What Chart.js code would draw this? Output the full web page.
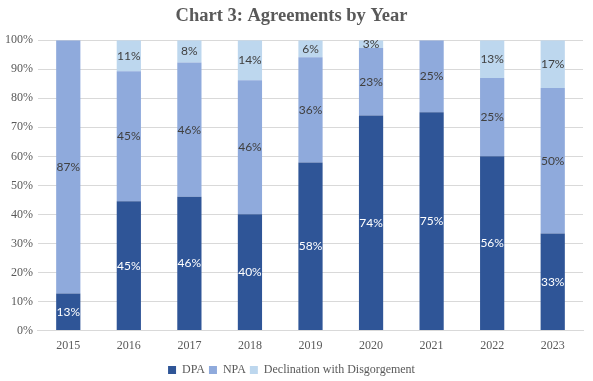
<!DOCTYPE html>
<html><head><meta charset="utf-8">
<script src="https://cdn.jsdelivr.net/npm/chart.js@4/dist/chart.umd.min.js"></script>
<style>html,body{margin:0;padding:0;background:#fff}#wrap{width:593px;height:381px}</style>
</head><body><div id="wrap"><canvas id="c" width="593" height="381"></canvas></div>
<script>
const years = ['2015','2016','2017','2018','2019','2020','2021','2022','2023'];
const dpa = [12.8, 44.5, 46.1, 40.1, 57.9, 74.1, 75.2, 60.0, 33.4];
const npa = [87.2, 44.8, 46.2, 46.1, 36.2, 23.2, 24.8, 27.0, 50.1];
const decl = [0, 10.7, 7.7, 13.8, 5.9, 2.7, 0, 13.0, 16.5];
const dpaLabels = ['13%','45%','46%','40%','58%','74%','75%','56%','33%'];
const npaLabels = ['87%','45%','46%','46%','36%','23%','25%','25%','50%'];
const declLabels = ['','11%','8%','14%','6%','3%','','13%','17%'];
const yTicks = [0,10,20,30,40,50,60,70,80,90,100];

const labelPlugin = {
  id:'segLabels',
  afterDatasetsDraw(chart){
    const ctx = chart.ctx;
    const sets = [dpaLabels, npaLabels, declLabels];
    chart.data.datasets.forEach((ds, di) => {
      const meta = chart.getDatasetMeta(di);
      meta.data.forEach((bar, i) => {
        const t = sets[di][i];
        if (!t) return;
        const p = bar.getProps(['x','y','base'], true);
        ctx.save();
        ctx.font = '12px Lato, "Open Sans", sans-serif';
        ctx.fillStyle = di === 0 ? '#ffffff' : '#404040';
        ctx.textAlign = 'center';
        ctx.textBaseline = 'middle';
        ctx.fillText(t, p.x, (p.y + p.base) / 2);
        ctx.restore();
      });
    });
  }
};

new Chart(document.getElementById('c'), {
  type:'bar',
  data:{
    labels: years,
    datasets:[
      {label:'DPA', data:dpa, backgroundColor:'#2F5597'},
      {label:'NPA', data:npa, backgroundColor:'#8FAADC'},
      {label:'Declination with Disgorgement', data:decl, backgroundColor:'#BDD7EE'}
    ]
  },
  options:{
    responsive:false,
    animation:false,
    layout:{padding:{left:0,right:10,top:0,bottom:-5}},
    datasets:{bar:{barPercentage:0.8,categoryPercentage:0.5}},
    scales:{
      x:{stacked:true, grid:{display:false}, border:{display:true,color:'#d9d9d9'},
         afterFit(axis){ axis.height += 7; },
         ticks:{color:'#595959', font:{family:'"Liberation Serif", serif', size:12}, padding:0}},
      y:{stacked:true, min:0, max:100,
         afterBuildTicks(axis){ axis.ticks = yTicks.map(v=>({value:v})); },
         grid:{color:'#d9d9d9', drawTicks:false}, border:{display:false},
         ticks:{color:'#595959', padding:5, font:{family:'"Liberation Serif", serif', size:12}, callback:v=>v+'%'}}
    },
    plugins:{
      title:{display:true, text:'Chart 3: Agreements by Year', color:'#595959',
             font:{family:'"Liberation Serif", serif', size:18.5, weight:'bold'}, padding:{top:5,bottom:13}},
      legend:{position:'bottom', labels:{color:'#595959', boxWidth:8, boxHeight:8, padding:4,
             font:{family:'"Liberation Serif", serif', size:12}}},
      tooltip:{enabled:false}
    }
  },
  plugins:[labelPlugin]
});
</script></body></html>
